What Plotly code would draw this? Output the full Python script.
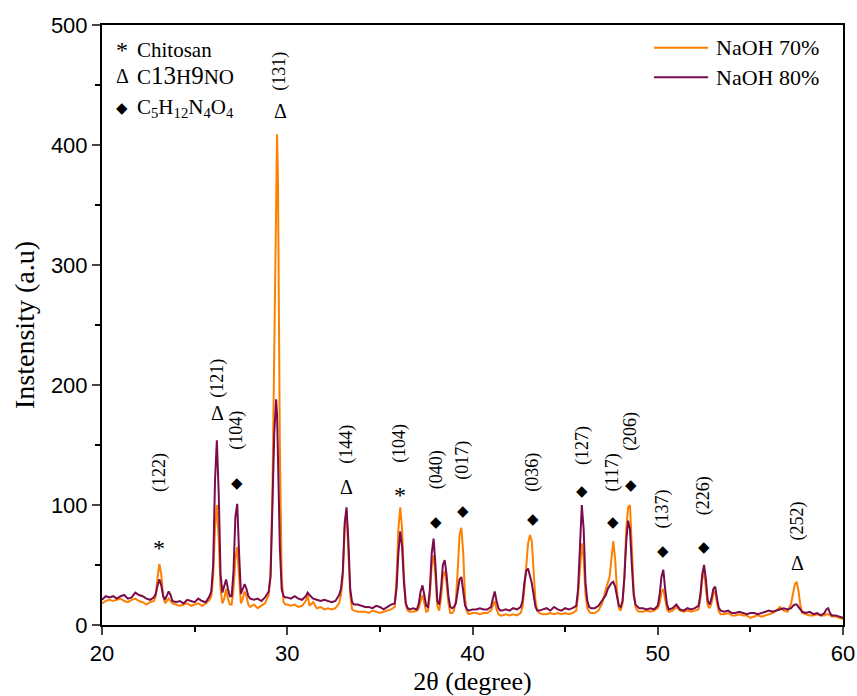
import plotly.graph_objects as go

# ---- data ----
two_theta = [
    20.0, 20.2, 20.4, 20.6, 20.8, 21.0, 21.2, 21.4, 21.6, 21.8, 22.0, 22.2, 22.4, 22.6, 22.8,
    22.9, 23.0, 23.1, 23.2, 23.3, 23.4, 23.6, 23.7, 23.8, 24.0,
    24.2, 24.4, 24.6, 24.8, 25.0, 25.2, 25.4, 25.6, 25.8,
    25.9, 26.0, 26.1, 26.2, 26.3, 26.4, 26.5, 26.6, 26.7, 26.8, 26.9, 27.0, 27.1, 27.2, 27.3, 27.4,
    27.5, 27.6, 27.7, 27.8, 27.9, 28.0, 28.2, 28.4, 28.6, 28.8, 29.0, 29.1, 29.2, 29.3, 29.4, 29.45,
    29.5, 29.6, 29.7, 29.8, 29.9, 30.0,
    30.2, 30.4, 30.6, 30.8, 31.0, 31.1, 31.2, 31.4, 31.6, 31.8, 32.0, 32.2, 32.4, 32.6, 32.8,
    32.9, 33.0, 33.1, 33.2, 33.3, 33.4, 33.5, 33.6, 33.8, 34.0,
    34.2, 34.4, 34.6, 34.8, 35.0, 35.2, 35.4, 35.6, 35.8,
    35.9, 36.0, 36.1, 36.2, 36.3, 36.4, 36.5, 36.6, 36.8, 37.0, 37.1,
    37.2, 37.3, 37.4, 37.5, 37.6, 37.7, 37.8, 37.9, 38.0, 38.1, 38.2, 38.3, 38.4, 38.5, 38.6, 38.7,
    38.8, 38.9, 39.0, 39.1, 39.2, 39.3, 39.4, 39.5, 39.6, 39.7, 39.8, 40.0,
    40.2, 40.4, 40.6, 40.8, 41.0,
    41.1, 41.2, 41.3, 41.4, 41.5, 41.6,
    41.8, 42.0, 42.2, 42.4, 42.6,
    42.7, 42.8, 42.9, 43.0, 43.1, 43.2, 43.3, 43.4, 43.5, 43.6, 43.8,
    44.0, 44.2, 44.4, 44.6, 44.8, 45.0, 45.2, 45.4, 45.6,
    45.7, 45.8, 45.9, 46.0, 46.1, 46.2, 46.3, 46.4, 46.6, 46.8, 47.0, 47.2,
    47.3, 47.4, 47.5, 47.6, 47.7, 47.8, 47.9, 48.0, 48.1, 48.2, 48.3, 48.4, 48.5, 48.6, 48.7, 48.8,
    48.9, 49.0, 49.2, 49.4, 49.6, 49.8, 50.0,
    50.1, 50.2, 50.3, 50.4, 50.5, 50.6, 50.8, 51.0, 51.2, 51.4, 51.6, 51.8, 52.0, 52.2,
    52.3, 52.4, 52.5, 52.6, 52.7, 52.8, 52.9, 53.0, 53.1, 53.2, 53.3, 53.4, 53.6, 53.8, 54.0,
    54.2, 54.4, 54.6, 54.8, 55.0, 55.2, 55.4, 55.6, 55.8, 56.0, 56.2, 56.4, 56.6, 56.8, 57.0, 57.2,
    57.3, 57.4, 57.5, 57.6, 57.7, 57.8, 58.0, 58.2, 58.4, 58.6, 58.8, 59.0, 59.1, 59.2, 59.3, 59.4,
    59.6, 59.8, 60.0,
]

naoh80 = [
    21, 24, 23, 24, 22, 24, 25, 22, 23, 27, 25, 24, 22, 21, 23,
    26, 33, 38, 33, 24, 21, 28, 25, 20, 19,
    20, 18, 21, 20, 19, 22, 20, 19, 24,
    28, 50, 120, 154, 110, 42, 27, 32, 38, 30, 24, 24, 45, 90, 101, 60,
    26, 30, 34, 30, 24, 22, 21, 22, 20, 23, 28, 40, 90, 160, 188, 175,
    140, 65, 30, 24, 23, 23,
    22, 24, 22, 21, 24, 27, 25, 22, 21, 20, 21, 20, 19, 20, 25,
    30, 45, 85, 98, 70, 30, 19, 17, 17, 16,
    15, 15, 14, 16, 15, 13, 15, 17, 18,
    30, 60, 78, 65, 35, 18, 14, 13, 14, 13, 18,
    28, 33, 25, 16, 15, 30, 60, 72, 50, 20, 17, 30, 50, 54, 42, 24,
    15, 14, 15, 18, 28, 38, 40, 30, 16, 13, 12, 13,
    13, 14, 13, 13, 15,
    22, 28, 20, 14, 12, 12,
    13, 12, 14, 13, 15,
    20, 35, 45, 47, 42, 35, 25, 15, 12, 12, 13,
    14, 12, 15, 13, 12, 14, 13, 14, 16,
    30, 70, 100, 80, 35, 20, 15, 14, 14, 16, 20, 25,
    30, 33, 35, 36, 32, 24, 16, 15, 20, 40, 70, 87, 80, 50, 25, 17,
    15, 14, 14, 13, 14, 13, 16,
    25, 40, 46, 30, 17, 13, 14, 17, 13, 12, 14, 13, 14, 16,
    25, 42, 50, 38, 20, 17, 22, 30, 32, 22, 14, 12, 11, 12, 10,
    10, 11, 10, 9, 10, 10, 9, 10, 11, 12, 11, 12, 13, 14, 13, 14,
    16, 17, 17, 15, 13, 11, 10, 11, 9, 10, 8, 10, 13, 14, 10, 8,
    8, 7, 6,
]

naoh70 = [
    18, 20, 21, 20, 21, 22, 20, 19, 21, 22, 20, 19, 17, 19, 20,
    24, 40, 51, 42, 25, 18, 22, 20, 18, 17,
    16, 17, 18, 16, 17, 18, 16, 18, 21,
    24, 40, 80, 100, 72, 30, 18, 22, 30, 22, 17, 17, 30, 55, 65, 40,
    18, 22, 28, 24, 17, 15, 17, 14, 16, 18, 25, 45, 110, 250, 390, 409,
    370, 150, 40, 19, 17, 17,
    16, 17, 15, 16, 20, 25, 16, 19, 14, 15, 13, 14, 13, 14, 18,
    25, 40, 80, 95, 65, 25, 13, 12, 11, 11,
    11, 10, 12, 11, 10, 11, 12, 13, 15,
    40, 80, 98, 80, 40, 17, 12, 11, 11, 12, 14,
    20, 25, 18, 11, 12, 25, 50, 58, 40, 16, 12, 22, 40, 45, 35, 18,
    10, 10, 12, 20, 45, 75, 81, 60, 22, 11, 9, 10,
    10, 9, 10, 10, 12,
    16, 20, 13, 9, 8, 8,
    9, 8, 9, 8, 10,
    15, 30, 50, 68, 75, 70, 45, 20, 12, 10, 9,
    9, 10, 9, 10, 9, 10, 9, 10, 12,
    25, 50, 68, 55, 25, 14, 11, 10, 10, 12, 18, 30,
    35, 40, 55, 70, 55, 28, 14, 12, 18, 40, 80, 98, 100, 70, 30, 15,
    12, 11, 11, 12, 11, 12, 14,
    18, 27, 30, 22, 13, 11, 12, 15, 12, 11, 12, 11, 12, 13,
    22, 38, 45, 32, 16, 14, 18, 26, 28, 18, 11, 9, 9, 10, 8,
    8, 9, 8, 8, 6, 7, 8, 7, 8, 9, 10, 12, 15, 12, 11, 18,
    28, 34, 36, 28, 16, 10, 9, 8, 8, 9, 8, 8, 9, 9, 8, 7,
    7, 6, 5,
]

# peak annotations: (2theta, symbol, symbol y, miller label, label y)
peak_x = [23.1, 26.26, 27.29, 29.61, 33.22, 36.09, 38.03, 39.49, 43.27, 45.91, 47.58, 48.56, 50.28, 52.49, 57.57]
peak_sym = ["*", "Δ", "◆", "Δ", "Δ", "*", "◆", "◆", "◆", "◆", "◆", "◆", "◆", "◆", "Δ"]
sym_y = [64, 177, 118, 428, 115, 108, 86, 95, 88, 112, 86, 117, 62, 65, 52]
hkl = ["(122)", "(121)", "(104)", "(131)", "(144)", "(104)", "(040)", "(017)", "(036)", "(127)", "(117)", "(206)", "(137)", "(226)", "(252)"]
hkl_y = [127, 206, 162, 461, 151, 151, 129, 137, 127, 150, 127, 161, 97, 108, 87]

x_ticks = [20, 30, 40, 50, 60]
y_ticks = [0, 100, 200, 300, 400, 500]
series_names = ["NaOH 70%", "NaOH 80%"]

ORANGE = "#FF8000"
WINE = "#7A0C4B"
SERIF = "Liberation Serif, Times New Roman, serif"
SANS = "Liberation Sans, Arial, sans-serif"

fig = go.Figure()
fig.add_trace(go.Scatter(x=two_theta, y=naoh70, mode="lines", name=series_names[0],
                         line=dict(color=ORANGE, width=2), showlegend=False))
fig.add_trace(go.Scatter(x=two_theta, y=naoh80, mode="lines", name=series_names[1],
                         line=dict(color=WINE, width=2), showlegend=False))


def sym_size(s):
    return {"*": 24, "Δ": 20, "◆": 15}[s]


ann = []
for px, s, sy, h, hy in zip(peak_x, peak_sym, sym_y, hkl, hkl_y):
    ann.append(dict(x=px, y=sy, text=s, showarrow=False, xref="x", yref="y",
                    font=dict(family=SERIF, size=sym_size(s), color="black")))
    ann.append(dict(x=px, y=hy, text=h, showarrow=False, xref="x", yref="y", textangle=-90,
                    font=dict(family=SERIF, size=18, color="black")))

# phase key (top-left)
key = [
    ("*", "Chitosan", 0.958),
    ("Δ", "C<span style='font-size:25px'>13</span>H<span style='font-size:25px'>9</span>NO", 0.915),
    ("◆", "C<sub>5</sub>H<sub>12</sub>N<sub>4</sub>O<sub>4</sub>", 0.862),
]
for sym, txt, yy in key:
    ann.append(dict(x=0.027, y=yy, xref="paper", yref="paper", text=sym, showarrow=False,
                    xanchor="center", yanchor="middle",
                    font=dict(family=SERIF, size=sym_size(sym), color="black")))
    ann.append(dict(x=0.045, y=yy, xref="paper", yref="paper", text=txt, showarrow=False,
                    xanchor="left", yanchor="middle",
                    font=dict(family=SERIF, size=21, color="black")))

# series key (top-right), drawn as line samples + text
shapes = []
for name, col, yy in [(series_names[0], ORANGE, 0.962), (series_names[1], WINE, 0.913)]:
    shapes.append(dict(type="line", xref="paper", yref="paper", x0=0.745, x1=0.818, y0=yy, y1=yy,
                       line=dict(color=col, width=2)))
    ann.append(dict(x=0.826, y=yy, xref="paper", yref="paper", text=name, showarrow=False,
                    xanchor="left", yanchor="middle",
                    font=dict(family=SERIF, size=22, color="black")))

fig.update_layout(
    width=857, height=696,
    margin=dict(l=102, r=14, t=25, b=71),
    paper_bgcolor="white", plot_bgcolor="white",
    showlegend=False,
    annotations=ann,
    shapes=shapes,
    xaxis=dict(range=[20, 60], tickvals=x_ticks, ticks="outside", ticklen=8, tickwidth=2,
               showline=True, linewidth=2, linecolor="black", mirror=True, showgrid=False,
               zeroline=False, automargin=False,
               minor=dict(dtick=5, ticks="outside", ticklen=5, tickwidth=2, tickcolor="black"),
               tickfont=dict(family=SANS, size=22, color="black"),
               title=dict(text="2θ (degree)", font=dict(family=SERIF, size=26, color="black"),
                          standoff=6)),
    yaxis=dict(range=[0, 500], tickvals=y_ticks, ticks="outside", ticklen=8, tickwidth=2,
               showline=True, linewidth=2, linecolor="black", mirror=True, showgrid=False,
               zeroline=False, automargin=False,
               minor=dict(dtick=50, ticks="outside", ticklen=5, tickwidth=2, tickcolor="black"),
               tickfont=dict(family=SANS, size=22, color="black"),
               title=dict(text="Instensity (a.u)", font=dict(family=SERIF, size=28, color="black"),
                          standoff=8)),
)

fig.write_html("out.html")
